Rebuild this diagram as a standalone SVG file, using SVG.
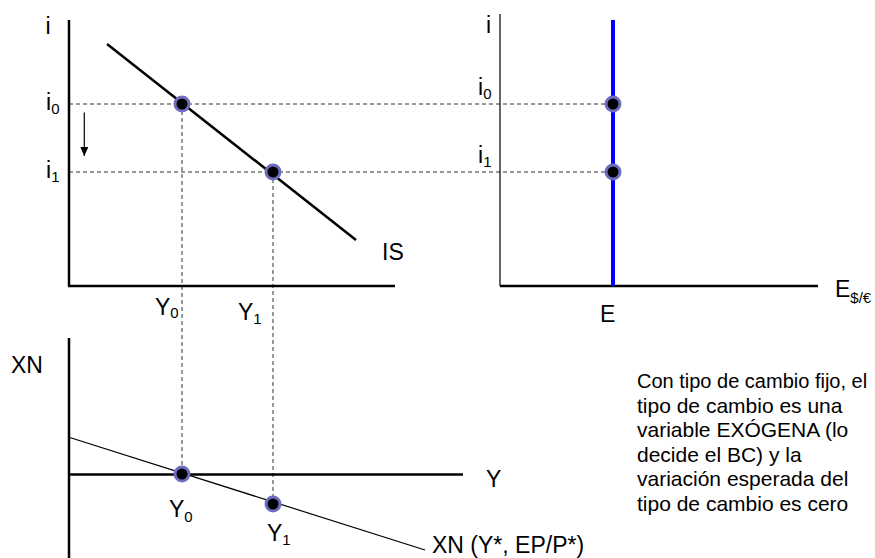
<svg xmlns="http://www.w3.org/2000/svg" width="875" height="558" viewBox="0 0 875 558">
<defs>
<style>
text{font-family:"Liberation Sans",Arial,sans-serif;fill:#000}
.lbl{font-size:23px}
.sub{font-size:15px}
.para{font-size:21px}
.axis{stroke:#000;stroke-width:2.5;fill:none}
.dash{stroke:#333;stroke-width:1;stroke-dasharray:4,3;fill:none}
.pt{fill:#000;stroke:#6e6ec0;stroke-width:3}
</style>
<marker id="ah" markerWidth="9" markerHeight="8" refX="9" refY="4" orient="auto" markerUnits="userSpaceOnUse" viewBox="0 0 9 8">
<path d="M0,0 L9,4 L0,8 z" fill="#000"/>
</marker>
</defs>
<rect width="875" height="558" fill="#fff"/>
<g id="connectors">
<line class="dash" x1="69" y1="104" x2="613" y2="104"/>
<line class="dash" x1="69" y1="172" x2="613" y2="172"/>
<line class="dash" x1="182" y1="104" x2="182" y2="474"/>
<line class="dash" x1="273" y1="172" x2="273" y2="504"/>
<line x1="84.3" y1="112.5" x2="84.3" y2="156" stroke="#000" stroke-width="1.2" marker-end="url(#ah)"/>
</g>
<g id="panel-is">
<line class="axis" x1="69" y1="20" x2="69" y2="286"/>
<line class="axis" x1="68" y1="286" x2="395" y2="286"/>
<line x1="107" y1="44" x2="356" y2="240" stroke="#000" stroke-width="2.5"/>
<text class="lbl" x="45.5" y="34">i</text>
<text class="lbl" x="46" y="110">i<tspan class="sub" dy="4">0</tspan></text>
<text class="lbl" x="46" y="178">i<tspan class="sub" dy="4">1</tspan></text>
<text class="lbl" x="382" y="260">IS</text>
<text class="lbl" x="155" y="315">Y<tspan class="sub" dy="3">0</tspan></text>
<text class="lbl" x="238" y="320">Y<tspan class="sub" dy="4">1</tspan></text>
</g>
<g id="panel-fx">
<line x1="500" y1="14" x2="500" y2="286" stroke="#000" stroke-width="1.2"/>
<line class="axis" x1="500" y1="286" x2="818" y2="286"/>
<line x1="613" y1="20" x2="613" y2="286" stroke="#0000ff" stroke-width="4"/>
<text class="lbl" x="486" y="33">i</text>
<text class="lbl" x="478" y="95">i<tspan class="sub" dy="4">0</tspan></text>
<text class="lbl" x="478" y="163">i<tspan class="sub" dy="4">1</tspan></text>
<text class="lbl" x="600" y="322">E</text>
<text class="lbl" x="835" y="297">E<tspan class="sub" dy="6">$/€</tspan></text>
</g>
<g id="panel-xn">
<line class="axis" x1="69" y1="338" x2="69" y2="558"/>
<line class="axis" x1="68" y1="474.5" x2="463" y2="474.5"/>
<line x1="69" y1="437.3" x2="425" y2="550" stroke="#000" stroke-width="1.2"/>
<text class="lbl" x="11" y="373">XN</text>
<text class="lbl" x="486" y="487">Y</text>
<text class="lbl" x="169" y="517">Y<tspan class="sub" dy="5">0</tspan></text>
<text class="lbl" x="267" y="541">Y<tspan class="sub" dy="4">1</tspan></text>
<text class="lbl" x="432" y="553">XN (Y*, EP/P*)</text>
</g>
<g id="points">
<circle class="pt" cx="182" cy="104" r="7"/>
<circle class="pt" cx="273" cy="172" r="7"/>
<circle class="pt" cx="613" cy="104" r="7"/>
<circle class="pt" cx="613" cy="172" r="7"/>
<circle class="pt" cx="182" cy="474" r="7"/>
<circle class="pt" cx="273" cy="504" r="7"/>
</g>
<g id="note">
<text class="para" x="637" y="388" style="font-size:20px">Con tipo de cambio fijo, el</text>
<text class="para" x="637" y="412.5">tipo de cambio es una</text>
<text class="para" x="637" y="437">variable EXÓGENA (lo</text>
<text class="para" x="637" y="461.5">decide el BC) y la</text>
<text class="para" x="637" y="486">variación esperada del</text>
<text class="para" x="637" y="510.5">tipo de cambio es cero</text>
</g>
</svg>
